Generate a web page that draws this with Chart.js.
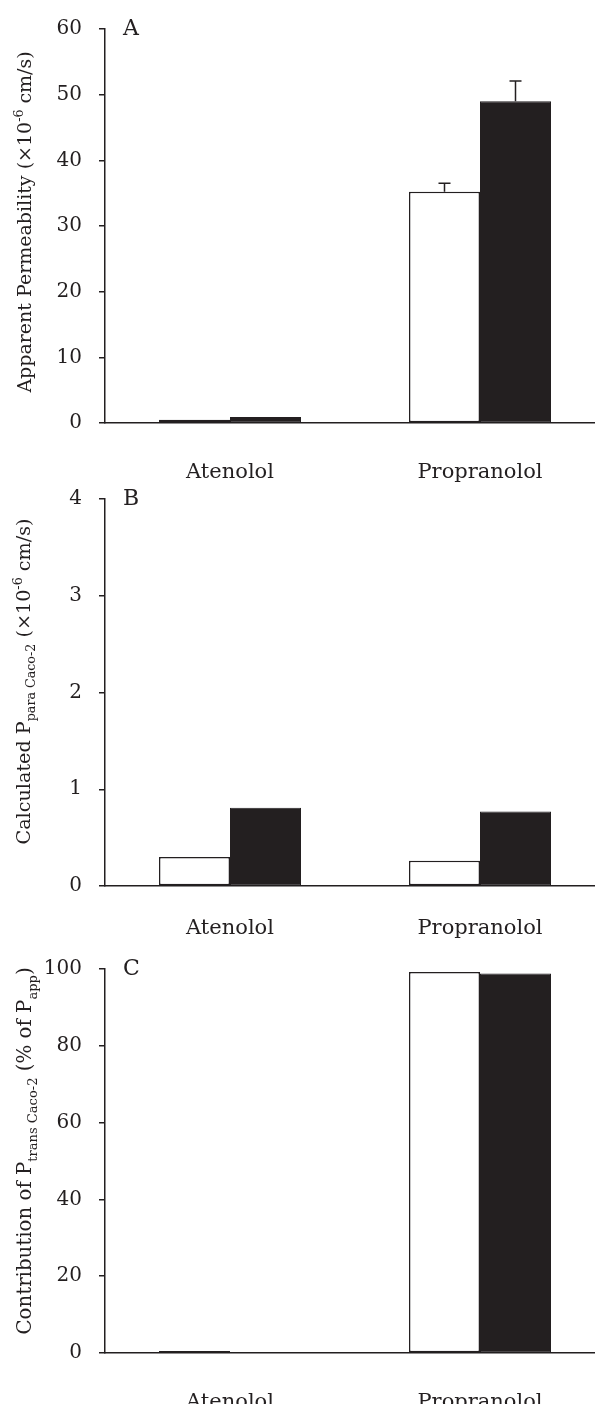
<!DOCTYPE html>
<html>
<head>
<meta charset="utf-8">
<script src="https://cdn.jsdelivr.net/npm/chart.js@4.4.1/dist/chart.umd.min.js"></script>
<style>
  html, body { margin: 0; padding: 0; background: #fff; overflow: hidden; width: 595px; height: 1404px; }
  .panel { position: absolute; left: 0; width: 605px; }
</style>
</head>
<body>
<div class="panel" style="top:0;height:490px"><canvas id="chartA"></canvas></div>
<div class="panel" style="top:470px;height:475px"><canvas id="chartB"></canvas></div>
<div class="panel" style="top:940px;height:464px"><canvas id="chartC"></canvas></div>
<script>
const categories = ['Atenolol', 'Propranolol'];

// A: apparent permeability (x10^-6 cm/s)
const permOpen = [0.5, 35.2];
const permFilled = [0.9, 49.0];
const permOpenErr = [0, 1.3];
const permFilledErr = [0, 3.1];

// B: calculated P para Caco-2
const paraOpen = [0.30, 0.26];
const paraFilled = [0.81, 0.77];

// C: contribution of P trans Caco-2 (% of Papp)
const transOpen = [0.5, 99.2];
const transFilled = [0, 98.8];

const ink = '#231f20';
const serif = "'DejaVu Serif', serif";
Chart.defaults.font.family = serif;
Chart.defaults.color = ink;

// draws text pieces with sub/superscripts, rotated for the y title
function drawRich(ctx, parts, size, cx, cy) {
  ctx.save();
  ctx.translate(cx, cy);
  ctx.rotate(-Math.PI / 2);
  ctx.fillStyle = ink;
  ctx.textBaseline = 'alphabetic';
  ctx.textAlign = 'left';
  const small = size * 0.66;
  let total = 0;
  parts.forEach(p => {
    ctx.font = (p.k === 'n' ? size : small) + 'px ' + serif;
    total += ctx.measureText(p.t).width;
  });
  let x = -total / 2;
  parts.forEach(p => {
    ctx.font = (p.k === 'n' ? size : small) + 'px ' + serif;
    const dy = p.k === 'sub' ? size * 0.28 : (p.k === 'sup' ? -size * 0.42 : 0);
    ctx.fillText(p.t, x, dy);
    x += ctx.measureText(p.t).width;
  });
  ctx.restore();
}

const panelText = {
  id: 'panelText',
  afterDraw(chart, args, opts) {
    const ctx = chart.ctx;
    const area = chart.chartArea;
    ctx.save();
    ctx.fillStyle = ink;
    ctx.font = '22px ' + serif;
    ctx.textBaseline = 'alphabetic';
    ctx.fillText(opts.letter, area.left + 18, area.top + 6);
    ctx.restore();
    drawRich(ctx, opts.title, opts.titleSize, opts.titleX, (area.top + area.bottom) / 2 + opts.titleDy);
  }
};

const errorBars = {
  id: 'errorBars',
  afterDatasetsDraw(chart, args, opts) {
    if (!opts.errs) return;
    const ctx = chart.ctx;
    const yScale = chart.scales.y;
    ctx.save();
    ctx.strokeStyle = ink;
    ctx.lineWidth = 1.5;
    opts.errs.forEach((errs, di) => {
      const meta = chart.getDatasetMeta(di);
      const vals = chart.data.datasets[di].data;
      meta.data.forEach((bar, i) => {
        if (!errs[i]) return;
        const yTop = yScale.getPixelForValue(vals[i] + errs[i]);
        ctx.beginPath();
        ctx.moveTo(bar.x, bar.y);
        ctx.lineTo(bar.x, yTop);
        ctx.moveTo(bar.x - 6, yTop);
        ctx.lineTo(bar.x + 6, yTop);
        ctx.stroke();
      });
    });
    ctx.restore();
  }
};

function makeChart(id, open, filled, cfg) {
  new Chart(document.getElementById(id), {
    type: 'bar',
    data: {
      labels: categories,
      datasets: [
        { data: open, backgroundColor: '#ffffff', borderColor: ink, borderWidth: 1.5, borderSkipped: false },
        { data: filled, backgroundColor: ink, borderColor: ink, borderWidth: 1, borderSkipped: false }
      ]
    },
    options: {
      responsive: true,
      maintainAspectRatio: false,
      animation: false,
      layout: { padding: { top: cfg.padTop, left: 0, right: 0, bottom: 0 } },
      datasets: { bar: { categoryPercentage: 0.568, barPercentage: 1 } },
      plugins: {
        legend: { display: false },
        tooltip: { enabled: false },
        panelText: { letter: cfg.letter, title: cfg.title, titleX: cfg.titleX, titleDy: cfg.titleDy, titleSize: cfg.titleSize },
        errorBars: { errs: cfg.errs }
      },
      scales: {
        x: {
          grid: { display: false, drawTicks: false },
          border: { display: true, color: ink, width: 1.5 },
          ticks: { color: ink, font: { size: 21 }, padding: cfg.xPad, maxRotation: 0 },
          afterFit: s => { s.height = cfg.xHeight; }
        },
        y: {
          min: 0,
          max: cfg.max,
          ticks: { stepSize: cfg.step, color: ink, font: { size: 20 }, padding: 17 },
          grid: { drawOnChartArea: false, drawTicks: true, tickLength: 6, color: ink, lineWidth: 1.5 },
          border: { color: ink, width: 1.5 },
          afterFit: s => { s.width = 105; }
        }
      }
    },
    plugins: [panelText, errorBars]
  });
}

makeChart('chartA', permOpen, permFilled, {
  padTop: 28, xHeight: 67, xPad: 37, max: 60, step: 10, letter: 'A',
  titleX: 31, titleDy: -4, titleSize: 19,
  errs: [permOpenErr, permFilledErr],
  title: [{ t: 'Apparent Permeability (\u00d710', k: 'n' }, { t: '-6', k: 'sup' }, { t: ' cm/s)', k: 'n' }]
});

makeChart('chartB', paraOpen, paraFilled, {
  padTop: 21, xHeight: 59, xPad: 30, max: 4, step: 1, letter: 'B',
  titleX: 30, titleDy: -11, titleSize: 19.2,
  errs: null,
  title: [{ t: 'Calculated P', k: 'n' }, { t: 'para Caco-2', k: 'sub' }, { t: ' (\u00d710', k: 'n' }, { t: '-6', k: 'sup' }, { t: ' cm/s)', k: 'n' }]
});

makeChart('chartC', transOpen, transFilled, {
  padTop: 19, xHeight: 51, xPad: 37, max: 100, step: 20, letter: 'C',
  titleX: 31, titleDy: -10, titleSize: 19.8,
  errs: null,
  title: [{ t: 'Contribution of P', k: 'n' }, { t: 'trans Caco-2', k: 'sub' }, { t: ' (% of P', k: 'n' }, { t: 'app', k: 'sub' }, { t: ')', k: 'n' }]
});
</script>
</body>
</html>
